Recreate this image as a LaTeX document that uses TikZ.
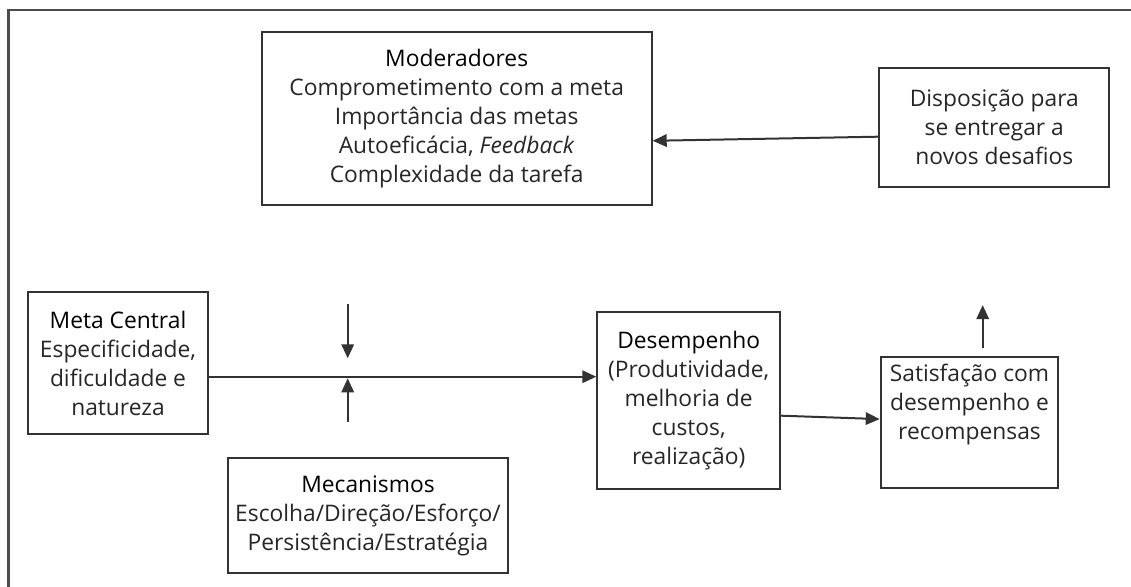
\documentclass[tikz,border=0pt]{standalone}
\usepackage{fontspec}
\setmainfont{Open Sans}
\usetikzlibrary{arrows.meta,positioning}
\begin{document}
\begin{tikzpicture}[x=0.5pt,y=-0.5pt,
  caixa/.style={draw=black!80, line width=1pt, align=center, inner sep=0pt,
    text=black!85, font=\fontsize{11.4}{14.5}\selectfont},
  seta/.style={draw=black!80, line width=1pt, -{Triangle[length=7pt,width=6.2pt]}}]
\useasboundingbox (0,0) rectangle (1131,587);
\draw[black!70, line width=1.2pt] (1140,10) -- (8.5,10) -- (8.5,600);
% caixas
\node[caixa, minimum width=195pt, minimum height=86.5pt] (moder) at (456.7,118.4)
  {\textcolor{black}{Moderadores}\\ Comprometimento com a meta\\ Importância das metas\\
   Autoeficácia, \textit{Feedback}\\ Complexidade da tarefa};
\node[caixa, minimum width=115pt, minimum height=59.2pt] (dispo) at (994.3,127.5)
  {Disposição para\\ se entregar a\\ novos desafios};
\node[caixa, minimum width=90.3pt, minimum height=71pt] (meta) at (118,363.3)
  {\textcolor{black}{Meta Central}\\ Especificidade,\\ dificuldade e\\ natureza};
\node[caixa, minimum width=140.3pt, minimum height=57.2pt] (mecan) at (368,515.5)
  {\textcolor{black}{Mecanismos}\\ Escolha/Direção/Esforço/\\ Persistência/Estratégia};
\node[caixa, minimum width=91.4pt, minimum height=88.8pt] (desemp) at (688.7,400.5)
  {\textcolor{black}{Desempenho}\\ (Produtividade,\\ melhoria de\\ custos,\\ realização)};
\node[caixa, minimum width=88.8pt, minimum height=65.2pt] (satis) at (969.5,422.5)
  {Satisfação com\\ desempenho e\\ recompensas\\[6pt]};
% setas
\draw[seta] ([yshift=-4.6pt]dispo.west) -- ([yshift=-11.2pt]moder.east);
\draw[seta] ([yshift=-6.7pt]meta.east) coordinate (m1) -- (m1 -| desemp.west);
\coordinate (c1) at (347.7,304);
\coordinate (c2) at (347.7,358.3);
\coordinate (c3) at (347.7,421.7);
\coordinate (c4) at (347.7,378.3);
\draw[seta] (c1) -- (c2);
\draw[seta] (c3) -- (c4);
\draw[seta] ([yshift=-7.6pt]desemp.east) -- ([yshift=1.7pt]satis.west);
\coordinate (s1) at ([xshift=6.6pt,yshift=4pt]satis.north);
\coordinate (s2) at ([xshift=6.6pt,yshift=25.6pt]satis.north);
\draw[seta] (s1) -- (s2);
\end{tikzpicture}
\end{document}
